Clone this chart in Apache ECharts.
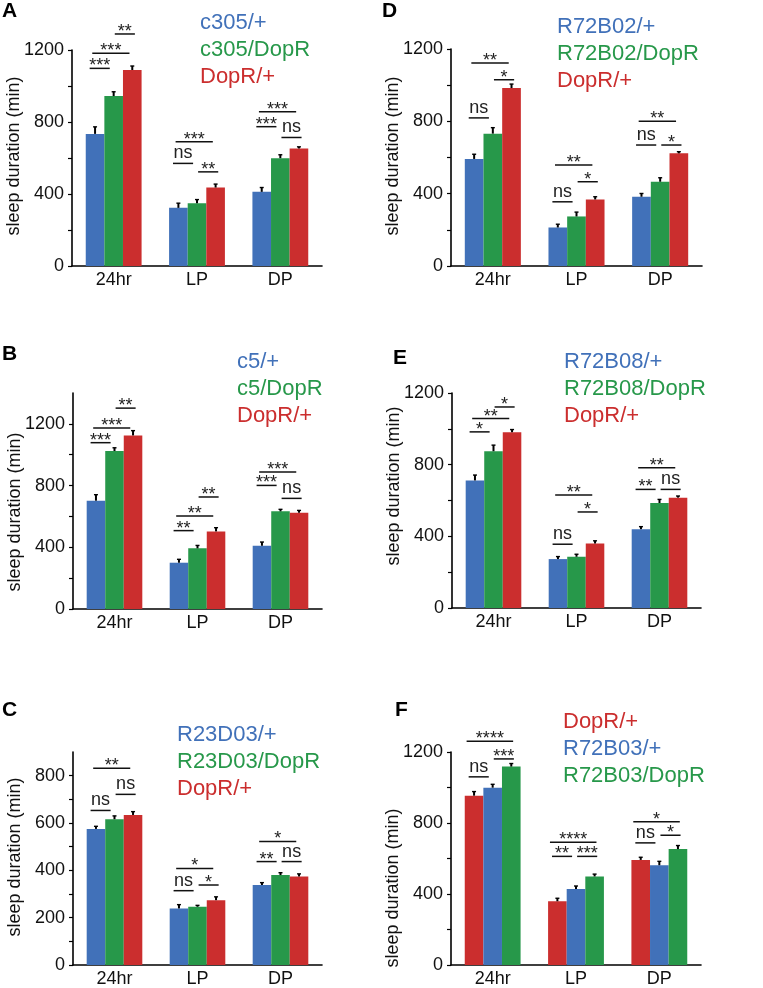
<!DOCTYPE html>
<html><head><meta charset="utf-8">
<script src="https://cdn.jsdelivr.net/npm/echarts@6/dist/echarts.min.js"></script>
<style>html,body{margin:0;padding:0;background:#fff}#c{width:763px;height:988px}</style>
</head><body><div id="c"></div>
<script>
const categories = ['24hr', 'LP', 'DP'];
const yTitle = 'sleep duration (min)';

// Panel A
const aNames = ['c305/+', 'c305/DopR', 'DopR/+'];
const aMeans = [[734, 323, 412], [944, 349, 599], [1089, 436, 653]];
const aErrs = [[39, 26, 24], [24, 20, 19], [22, 19, 9]];
const aSig = [[0,1,2,1289,'**'],[0,0,2,1182,'***'],[0,0,1,1098,'***'],[1,0,2,690,'***'],[1,0,1,570,'ns'],[1,1,2,523,'**'],[2,0,2,857,'***'],[2,0,1,774,'***'],[2,1,2,714,'ns']];
const aTicks = [0, 400, 800, 1200];

// Panel B
const bNames = ['c5/+', 'c5/DopR', 'DopR/+'];
const bMeans = [[702, 300, 410], [1024, 393, 633], [1125, 503, 624]];
const bErrs = [[39, 22, 24], [21, 19, 13], [31, 24, 15]];
const bSig = [[0,1,2,1302,'**'],[0,0,2,1173,'***'],[0,0,1,1078,'***'],[1,1,2,726,'**'],[1,0,2,603,'**'],[1,0,1,508,'**'],[2,0,2,888,'***'],[2,0,1,801,'***'],[2,1,2,717,'ns']];
const bTicks = [0, 400, 800, 1200];

// Panel C
const cNames = ['R23D03/+', 'R23D03/DopR', 'DopR/+'];
const cMeans = [[575, 239, 338], [616, 246, 380], [634, 274, 374]];
const cErrs = [[11, 16, 10], [14, 6, 10], [14, 14, 11]];
const cSig = [[0,0,2,831,'**'],[0,1,2,721,'ns'],[0,0,1,653,'ns'],[1,0,2,408,'*'],[1,1,2,338,'*'],[1,0,1,314,'ns'],[2,0,2,522,'*'],[2,0,1,437,'**'],[2,1,2,437,'ns']];
const cTicks = [0, 200, 400, 600, 800];

// Panel D
const dNames = ['R72B02/+', 'R72B02/DopR', 'DopR/+'];
const dMeans = [[592, 213, 383], [732, 274, 466], [984, 368, 623]];
const dErrs = [[26, 18, 18], [33, 24, 22], [22, 15, 9]];
const dSig = [[0,0,2,1123,'**'],[0,1,2,1030,'*'],[0,0,1,819,'ns'],[1,0,2,558,'**'],[1,1,2,466,'*'],[1,0,1,355,'ns'],[2,0,2,800,'**'],[2,0,1,669,'ns'],[2,1,2,669,'*']];
const dTicks = [0, 400, 800, 1200];

// Panel E
const eNames = ['R72B08/+', 'R72B08/DopR', 'DopR/+'];
const eMeans = [[712, 273, 440], [875, 286, 586], [981, 360, 616]];
const eErrs = [[30, 14, 14], [34, 14, 20], [15, 15, 9]];
const eSig = [[0,1,2,1122,'*'],[0,0,2,1057,'**'],[0,0,1,983,'*'],[1,0,2,631,'**'],[1,1,2,536,'*'],[1,0,1,356,'ns'],[2,0,2,783,'**'],[2,0,1,662,'**'],[2,1,2,662,'ns']];
const eTicks = [0, 400, 800, 1200];

// Panel F
const fNames = ['DopR/+', 'R72B03/+', 'R72B03/DopR'];
const fMeans = [[954, 359, 592], [999, 428, 562], [1118, 499, 653]];
const fErrs = [[23, 17, 15], [19, 17, 22], [17, 13, 20]];
const fSig = [[0,0,2,1261,'****'],[0,1,2,1161,'***'],[0,0,1,1060,'ns'],[1,0,2,692,'****'],[1,0,1,612,'**'],[1,1,2,612,'***'],[2,0,2,807,'*'],[2,1,2,731,'*'],[2,0,1,688,'ns']];
const fTicks = [0, 400, 800, 1200];

const BLUE = '#4171B9', GREEN = '#27984A', RED = '#CB2E2E';
const FONT = '"Liberation Sans", Arial, Helvetica, sans-serif';
const GAP = 0.33;
// horizontal nudge of comparison lines, in bar widths
const SHIFT_FIRST_PAIR = -0.25, SHIFT_SECOND_PAIR = 0.1, SHIFT_SPAN = -0.15;

const panels = [
  {letter:'A', names:aNames, means:aMeans, errs:aErrs, sig:aSig, ticks:aTicks, colors:[BLUE,GREEN,RED],
   grid:{left:72, top:50, width:250, height:216}, max:1200, minor:200, span2:2, lx:2, ly:12, gx:200, gy:23, ny:156},
  {letter:'B', names:bNames, means:bMeans, errs:bErrs, sig:bSig, ticks:bTicks, colors:[BLUE,GREEN,RED],
   grid:{left:73, top:393, width:249, height:216}, max:1400, minor:200, span2:2, lx:2, ly:355, gx:237, gy:362, ny:512},
  {letter:'C', names:cNames, means:cMeans, errs:cErrs, sig:cSig, ticks:cTicks, colors:[BLUE,GREEN,RED],
   grid:{left:73, top:752, width:249, height:215}, max:900, minor:100, span2:2, lx:2, ly:711, gx:177, gy:735, ny:857},
  {letter:'D', names:dNames, means:dMeans, errs:dErrs, sig:dSig, ticks:dTicks, colors:[BLUE,GREEN,RED],
   grid:{left:451, top:49, width:251, height:217}, max:1200, minor:200, span2:2, lx:382, ly:12, gx:557, gy:27, ny:156},
  {letter:'E', names:eNames, means:eMeans, errs:eErrs, sig:eSig, ticks:eTicks, colors:[BLUE,GREEN,RED],
   grid:{left:452, top:393, width:249, height:215}, max:1200, minor:200, span2:2, lx:393, ly:359, gx:564, gy:362, ny:486},
  {letter:'F', names:fNames, means:fMeans, errs:fErrs, sig:fSig, ticks:fTicks, colors:[RED,BLUE,GREEN],
   grid:{left:451, top:752, width:250, height:215}, max:1200, minor:200, span2:2.5, lx:395, ly:711, gx:563, gy:722, ny:888}
];

const grids = [], xAxes = [], yAxes = [], series = [], graphics = [];

panels.forEach((p, k) => {
  grids.push(Object.assign({containLabel:false}, p.grid));
  xAxes.push({
    type:'category', gridIndex:k, data:categories,
    axisLine:{lineStyle:{color:'#000', width:1.6}},
    axisTick:{show:false},
    axisLabel:{color:'#111', fontFamily:FONT, fontSize:18, margin:5}
  });
  const tickVals = [];
  for (let v = 0; v <= p.ticks[p.ticks.length-1]; v += p.minor) tickVals.push(v);
  yAxes.push({
    type:'value', gridIndex:k, min:0, max:p.max, interval:p.minor,
    splitLine:{show:false},
    axisLine:{show:true, lineStyle:{color:'#000', width:1.6}},
    axisTick:{show:true, length:4, lineStyle:{color:'#000', width:1.2}, customValues:tickVals},
    axisLabel:{color:'#111', fontFamily:FONT, fontSize:18, margin:8, customValues:p.ticks,
               formatter:function(v){ return String(v); }}
  });
  p.means.forEach((vals, s) => {
    series.push({
      type:'bar', name:p.names[s], xAxisIndex:k, yAxisIndex:k, data:vals,
      barGap:'0%', barCategoryGap:(GAP*100)+'%',
      itemStyle:{color:p.colors[s]}, silent:true, animation:false
    });
  });
  const errData = [];
  p.means.forEach((vals, s) => vals.forEach((m, c) => errData.push([c, s, m, p.errs[s][c]])));
  series.push({
    type:'custom', xAxisIndex:k, yAxisIndex:k, data:errData, encode:{x:0, y:2}, z:5, animation:false, silent:true,
    renderItem:function(params, api){
      const c = api.value(0), s = api.value(1), m = api.value(2), e = api.value(3);
      const p0 = api.coord([c, m]), p1 = api.coord([c, m + e]);
      const bw = api.size([1, 0])[0] * (1 - GAP) / 3;
      const x = p0[0] + (s - 1) * bw;
      return {type:'group', children:[
        {type:'line', shape:{x1:x, y1:p0[1], x2:x, y2:p1[1]}, style:{stroke:'#000', lineWidth:2}},
        {type:'line', shape:{x1:x-2, y1:p1[1], x2:x+2, y2:p1[1]}, style:{stroke:'#000', lineWidth:1.4}}
      ]};
    }
  });
  const sig = p.sig, span2 = p.span2;
  series.push({
    type:'custom', xAxisIndex:k, yAxisIndex:k, data:sig.map(r => [r[0], r[1], r[2], r[3]]), encode:{x:0, y:3},
    z:6, animation:false, silent:true, clip:false,
    renderItem:function(params, api){
      const row = sig[params.dataIndex];
      const c = row[0], i = row[1], j = row[2], lv = row[3], txt = row[4];
      const pt = api.coord([c, lv]);
      const bw = api.size([1, 0])[0] * (1 - GAP) / 3;
      const xi = pt[0] + (i - 1) * bw, xj = pt[0] + (j - 1) * bw;
      let shift;
      if (j - i === 2) shift = SHIFT_SPAN; else shift = (i === 0 ? SHIFT_FIRST_PAIR : SHIFT_SECOND_PAIR);
      const mid = (xi + xj) / 2 + shift * bw;
      const star = txt.indexOf('*') >= 0;
      const len = (j - i === 1) ? bw + 1.5 : span2 * bw;
      return {type:'group', children:[
        {type:'line', shape:{x1:mid-len/2, y1:pt[1], x2:mid+len/2, y2:pt[1]}, style:{stroke:'#111', lineWidth:1.5}},
        {type:'text', x:mid, y: star ? pt[1] - 2 : pt[1] - 10,
         style:{text:txt, fill:'#222', font:'18px ' + FONT, align:'center', verticalAlign:'middle'}}
      ]};
    }
  });
  graphics.push({type:'text', left:p.lx, top:p.ly - 11,
    style:{text:p.letter, fill:'#000', font:'bold 21px ' + FONT}});
  p.names.forEach((nm, s) => {
    graphics.push({type:'text', x:p.gx, y:p.gy + s * 27,
      style:{text:nm, fill:p.colors[s], font:'22px ' + FONT, align:'left', verticalAlign:'middle'}});
  });
  graphics.push({type:'text', x:p.grid.left - 58, y:p.ny, rotation:Math.PI / 2,
    style:{text:yTitle, fill:'#111', font:'18px ' + FONT, align:'center', verticalAlign:'middle'}});
});

const chart = echarts.init(document.getElementById('c'), null, {renderer:'canvas'});
chart.setOption({
  backgroundColor:'#fff', animation:false,
  grid:grids, xAxis:xAxes, yAxis:yAxes, series:series, graphic:graphics
});
</script></body></html>
